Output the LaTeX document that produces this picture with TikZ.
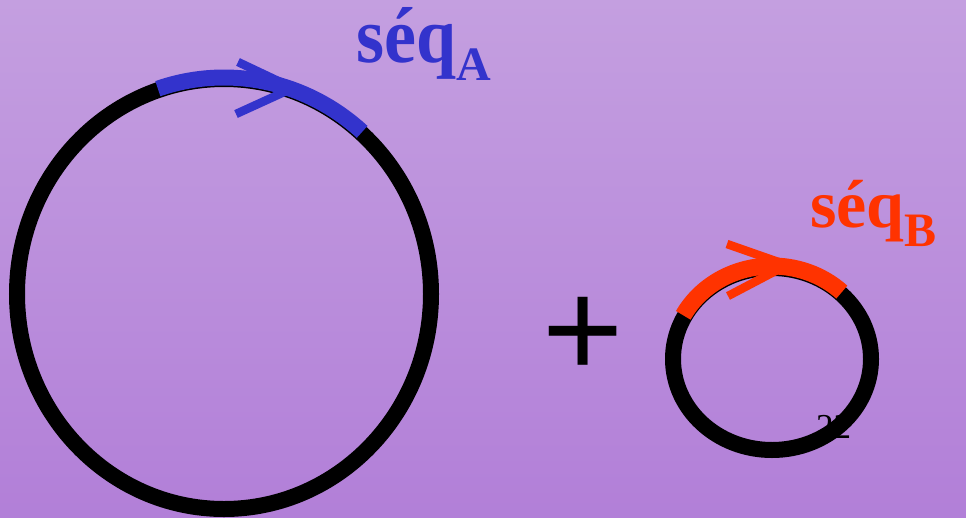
\documentclass[tikz,border=0pt]{standalone}
\usepackage{fontspec}
\setmainfont{Liberation Serif}
\newfontfamily\plusfont{Liberation Sans}
\definecolor{bgtop}{HTML}{C49FE0}
\definecolor{bgbot}{HTML}{B27FD8}
\definecolor{seqblue}{HTML}{3333CC}
\definecolor{seqred}{HTML}{FF3300}
\tikzset{
  ring/.style={draw=black, line width=16pt},
  seqarc/.style={line width=16pt},
  chevron/.style={line width=8.5pt, line cap=butt, line join=bevel},
  label/.style={inner sep=0pt, anchor=base west, font=\bfseries},
}
\begin{document}
\begin{tikzpicture}[x=1pt,y=-1pt]
\useasboundingbox (0,0) rectangle (966,517);
\shade[top color=bgtop, bottom color=bgbot] (0,0) rectangle (966,517);

% centres
\coordinate (ca) at (224,294);
\coordinate (cb) at (772,359);

% slide number (partly hidden by ring)
\node[inner sep=0pt, anchor=base west, font=\fontsize{35}{35}\selectfont] (num) at (816,438) {22};

% large ring A
\draw[ring] (ca) ellipse [x radius=207, y radius=215];
\draw[seqarc, seqblue] ([shift={(-108.5:208.5 and 216.5)}]ca) arc[start angle=-108.5, end angle=-48.5, x radius=208.5, y radius=216.5];
\coordinate (a1) at (238,62);
\coordinate (atip) at (293,88);
\coordinate (a2) at (236,114);
\draw[chevron, seqblue] (a1) -- (atip) -- (a2);

% small ring B
\draw[ring] (cb) ellipse [x radius=99, y radius=91];
\draw[seqarc, seqred, line width=17pt] ([shift={(-152:100.5 and 93)}]cb) arc[start angle=-152, end angle=-46, x radius=100.5, y radius=93];
\coordinate (b1) at (727,244);
\coordinate (btip) at (787,265);
\coordinate (b2) at (728,296);
\draw[chevron, seqred] (b1) -- (btip) -- (b2);

% labels
\node[label, text=seqblue, font=\bfseries\fontsize{72}{72}\selectfont] (la) at (356,62) {\scalebox{1}[1.1]{séq}\raisebox{-18pt}{\fontsize{48}{48}\selectfont A}};
\node[label, text=seqred, font=\bfseries\fontsize{68}{68}\selectfont] (lb) at (810,227) {séq\raisebox{-19pt}{\fontsize{48}{48}\selectfont B}};

% plus sign
\node[inner sep=0pt, font=\plusfont\fontsize{139}{139}\selectfont] (plus) at (583,337) {+};
\end{tikzpicture}
\end{document}
